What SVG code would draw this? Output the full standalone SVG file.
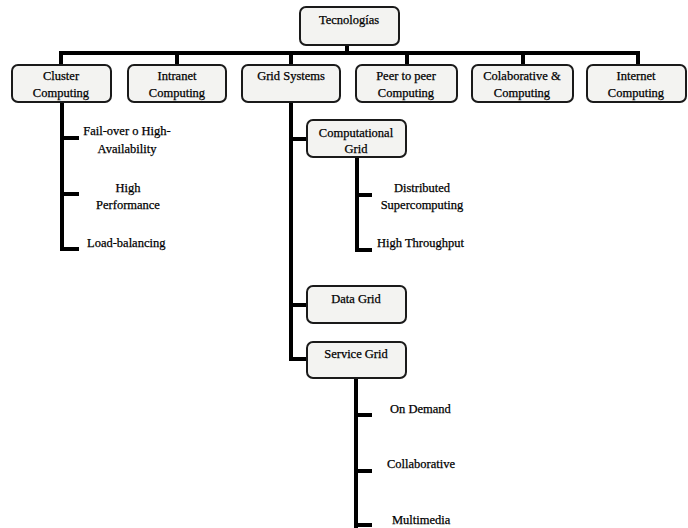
<svg xmlns="http://www.w3.org/2000/svg" width="688" height="528" viewBox="0 0 688 528">
<style>
.box{fill:#f3f3f1;stroke:#1a1a1a;stroke-width:2}
.t{font-family:"Liberation Serif","Times New Roman",serif;font-size:12.5px;fill:#000;stroke:#000;stroke-width:0.25;text-anchor:middle}
.l{text-anchor:start}
.c{fill:none;stroke:#000;stroke-width:4;stroke-linecap:butt}
</style>
<rect width="688" height="528" fill="#fff"/>
<g id="connectors">
<path class="c" d="M347 45V53M59 53H640M61 53V65M177 53V65M291 53V65M407 53V65M523 53V65M638 53V65"/>
<path class="c" d="M62 102V251M60 138H79M60 194H79M60 249H79"/>
<path class="c" d="M291 102V361M289 139H307M289 305H307M289 359H307"/>
<path class="c" d="M357 157V252M355 195H372M355 250H372"/>
<path class="c" d="M356 378V528M354 415H372M354 471H372M354 525H372"/>
</g>
<g id="tecnologias"><rect class="box" x="300" y="7" width="99" height="38" rx="6"/><text class="t" x="349" y="24">Tecnologías</text></g>
<g id="cluster"><rect class="box" x="12" y="65" width="99" height="37" rx="6"/><text class="t" x="61" y="80">Cluster</text><text class="t" x="61" y="97">Computing</text></g>
<g id="intranet"><rect class="box" x="128" y="65" width="98" height="37" rx="6"/><text class="t" x="177" y="80">Intranet</text><text class="t" x="177" y="97">Computing</text></g>
<g id="grid"><rect class="box" x="242" y="65" width="98" height="37" rx="6"/><text class="t" x="291" y="80">Grid Systems</text></g>
<g id="peer"><rect class="box" x="356" y="65" width="101" height="37" rx="6"/><text class="t" x="406" y="80">Peer to peer</text><text class="t" x="406" y="97">Computing</text></g>
<g id="colab"><rect class="box" x="472" y="65" width="101" height="37" rx="6"/><text class="t" x="522" y="80">Colaborative &amp;</text><text class="t" x="522" y="97">Computing</text></g>
<g id="internet"><rect class="box" x="587" y="65" width="99" height="37" rx="6"/><text class="t" x="636" y="80">Internet</text><text class="t" x="636" y="97">Computing</text></g>
<g id="failover"><text class="t" x="127" y="135">Fail-over o High-</text><text class="t" x="127" y="153">Availability</text></g>
<g id="highperf"><text class="t" x="128" y="192">High</text><text class="t" x="128" y="209">Performance</text></g>
<g id="loadbal"><text class="t l" x="87" y="247">Load-balancing</text></g>
<g id="compgrid"><rect class="box" x="307" y="120" width="99" height="37" rx="6"/><text class="t" x="356" y="137">Computational</text><text class="t" x="356" y="153">Grid</text></g>
<g id="distsuper"><text class="t" x="422" y="192">Distributed</text><text class="t" x="422" y="209">Supercomputing</text></g>
<g id="highthr"><text class="t l" x="377" y="247">High Throughput</text></g>
<g id="datagrid"><rect class="box" x="307" y="286" width="99" height="37" rx="6"/><text class="t" x="356" y="303">Data Grid</text></g>
<g id="servicegrid"><rect class="box" x="307" y="342" width="99" height="36" rx="6"/><text class="t" x="356" y="358">Service Grid</text></g>
<g id="ondemand"><text class="t l" x="390" y="413">On Demand</text></g>
<g id="collab"><text class="t l" x="387" y="468">Collaborative</text></g>
<g id="multimedia"><text class="t l" x="392" y="524">Multimedia</text></g>
</svg>
